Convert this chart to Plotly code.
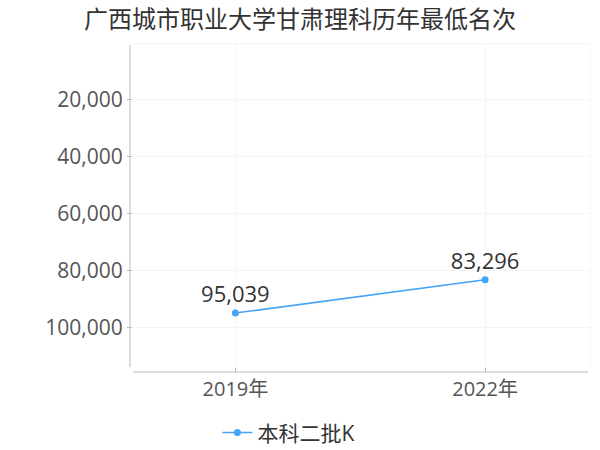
import plotly.graph_objects as go

title = "广西城市职业大学甘肃理科历年最低名次"
years = ["2019年", "2022年"]
series_name = "本科二批K"
ranks = [95039, 83296]
y_ticks = [20000, 40000, 60000, 80000, 100000]
y_tick_labels = ["20,000", "40,000", "60,000", "80,000", "100,000"]

font_family = "Open Sans, Noto Sans CJK SC, sans-serif"
cjk_family = "Noto Sans CJK SC, sans-serif"
blue = "#45a3f7"
grid = "#f4f4f4"
axis_col = "#bbbbbb"

fig = go.Figure()
fig.add_trace(go.Scatter(
    x=years, y=ranks, name=series_name,
    mode="lines+markers+text",
    line=dict(color=blue, width=1.5),
    marker=dict(color=blue, size=7),
    text=[f"{v:,}" for v in ranks],
    textposition="top center",
    textfont=dict(size=22, color="#333333", family=font_family),
    cliponaxis=False,
))

fig.update_layout(
    width=600, height=450,
    margin=dict(l=133, r=10, t=43, b=83, autoexpand=False),
    paper_bgcolor="white", plot_bgcolor="white",
    font=dict(family=font_family),
    title=dict(text=title, x=0.5, xanchor="center", xref="paper",
               yref="container", y=1 - 20 / 450, yanchor="middle",
               font=dict(size=24, color="#333333", family=cjk_family)),
    showlegend=True,
    legend=dict(orientation="h", x=0.34, xanchor="center", y=-0.14, yanchor="top",
                font=dict(size=21, color="#333333", family=font_family),
                itemwidth=30),
    xaxis=dict(
        type="category", range=[-0.41, 1.42],
        showgrid=True, gridcolor=grid, gridwidth=1,
        showline=False, zeroline=False,
        ticks="outside", ticklen=4, tickcolor=axis_col,
        tickfont=dict(size=20, color="#555555", family=font_family),
        fixedrange=True,
    ),
    yaxis=dict(
        range=[114000, 0],
        tickvals=y_ticks, ticktext=y_tick_labels,
        showgrid=True, gridcolor=grid, gridwidth=1,
        zeroline=True, zerolinecolor=grid, zerolinewidth=1,
        showline=False,
        ticks="outside", ticklen=5, tickcolor=axis_col,
        tickfont=dict(size=21, color="#555555", family=font_family),
        fixedrange=True,
    ),
    shapes=[
        dict(type="line", xref="paper", yref="paper",
             x0=-3/457, x1=-3/457, y0=0, y1=322/324,
             line=dict(color=axis_col, width=1)),
        dict(type="line", xref="paper", yref="paper",
             x0=0, x1=455/457, y0=-5/324, y1=-5/324,
             line=dict(color=axis_col, width=1)),
        dict(type="line", xref="paper", yref="paper",
             x0=1, x1=1, y0=0, y1=1,
             line=dict(color=grid, width=1)),
    ],
)

title_x_center = 300
fig.layout.title.x = (title_x_center - 133) / 457

fig.write_html("out.html", config={"displayModeBar": False},
               post_script="document.body.style.margin='0';")
